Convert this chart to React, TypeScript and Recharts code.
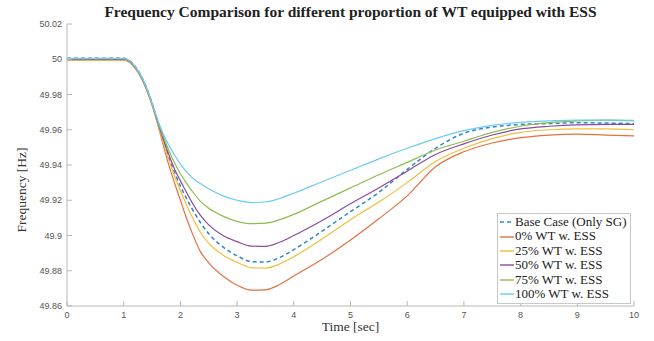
import React from 'react';
import { LineChart, Line, XAxis, YAxis } from 'recharts';

const time = [0, 0.5, 1, 1.1, 1.2, 1.3, 1.4, 1.5, 1.6, 1.7, 1.8, 1.9, 2, 2.1, 2.2, 2.35, 2.5, 2.75, 3, 3.25, 3.5, 3.75, 4, 4.5, 5, 5.5, 6, 6.5, 7, 7.5, 8, 8.5, 9, 9.5, 10];

const baseCase = [50.0005, 50.0005, 50.0005, 49.9993, 49.996, 49.991, 49.984, 49.975, 49.965, 49.9545, 49.944, 49.9355, 49.928, 49.9215, 49.9155, 49.9075, 49.901, 49.8935, 49.8885, 49.8852, 49.885, 49.8875, 49.892, 49.9025, 49.9135, 49.9245, 49.9375, 49.9495, 49.958, 49.9615, 49.963, 49.9635, 49.964, 49.9638, 49.9635];
const wt0 = [49.9995, 49.9995, 49.9995, 49.9983, 49.995, 49.99, 49.983, 49.974, 49.963, 49.951, 49.9395, 49.9295, 49.92, 49.9105, 49.902, 49.891, 49.8845, 49.877, 49.8718, 49.869, 49.8692, 49.8722, 49.877, 49.8865, 49.8975, 49.9095, 49.9225, 49.939, 49.9475, 49.9525, 49.9555, 49.957, 49.9575, 49.957, 49.9565];
const wt25 = [49.9997, 49.9997, 49.9997, 49.9985, 49.9952, 49.9902, 49.9832, 49.9743, 49.9635, 49.9525, 49.9425, 49.9335, 49.9255, 49.918, 49.911, 49.902, 49.8955, 49.889, 49.8848, 49.8818, 49.8815, 49.8838, 49.888, 49.898, 49.909, 49.919, 49.93, 49.942, 49.9495, 49.955, 49.9585, 49.96, 49.9605, 49.9605, 49.96];
const wt50 = [50, 50, 50, 49.9988, 49.9955, 49.9905, 49.9835, 49.9747, 49.9645, 49.9545, 49.9455, 49.9375, 49.931, 49.925, 49.919, 49.9115, 49.906, 49.9, 49.8965, 49.894, 49.8938, 49.8962, 49.9, 49.9085, 49.918, 49.927, 49.9365, 49.946, 49.952, 49.957, 49.9605, 49.962, 49.9628, 49.963, 49.963];
const wt75 = [50.0003, 50.0003, 50.0003, 49.9991, 49.9958, 49.9908, 49.9838, 49.975, 49.965, 49.9562, 49.948, 49.941, 49.935, 49.93, 49.9255, 49.9195, 49.9155, 49.911, 49.908, 49.9067, 49.907, 49.909, 49.912, 49.9195, 49.927, 49.9345, 49.9415, 49.9485, 49.9535, 49.9585, 49.962, 49.964, 49.965, 49.9655, 49.965];
const wt100 = [50.0005, 50.0005, 50.0005, 49.9993, 49.996, 49.991, 49.984, 49.975, 49.9655, 49.9575, 49.951, 49.9455, 49.9405, 49.9365, 49.933, 49.9295, 49.9265, 49.9225, 49.92, 49.9187, 49.919, 49.921, 49.924, 49.9305, 49.937, 49.9435, 49.9495, 49.955, 49.9595, 49.9625, 49.9642, 49.965, 49.9655, 49.9655, 49.9654];

const xTicks = [0, 1, 2, 3, 4, 5, 6, 7, 8, 9, 10];
const yTicks = [49.86, 49.88, 49.9, 49.92, 49.94, 49.96, 49.98, 50, 50.02];

const series = [
  { key: 'base', name: 'Base Case (Only SG)', color: '#2f86d2', dashed: true },
  { key: 'wt0', name: '0% WT w. ESS', color: '#e2713f', dashed: false },
  { key: 'wt25', name: '25% WT w. ESS', color: '#f1bd3c', dashed: false },
  { key: 'wt50', name: '50% WT w. ESS', color: '#8a4a9c', dashed: false },
  { key: 'wt75', name: '75% WT w. ESS', color: '#8cbd4e', dashed: false },
  { key: 'wt100', name: '100% WT w. ESS', color: '#6ccbf2', dashed: false },
];

const data = time.map((t, i) => ({
  t,
  base: baseCase[i],
  wt0: wt0[i],
  wt25: wt25[i],
  wt50: wt50[i],
  wt75: wt75[i],
  wt100: wt100[i],
}));

const axisColor = '#b8b8b8';
const serif = 'Liberation Serif, Times New Roman, serif';
const tickFont = { fontSize: 9, fill: '#555', fontFamily: 'Liberation Sans, Arial, sans-serif' };

const fmtY = (v: number) => String(parseFloat(v.toFixed(2)));

// legend drawn as an overlay so it doesn't steal space from the plot
const LegendBox = () => (
  <div
    style={{
      position: 'absolute',
      left: 497,
      top: 213,
      background: '#fff',
      border: '1px solid #c8c8c8',
      padding: '1px 3px 2px 2px',
      fontFamily: serif,
      fontSize: 13,
      color: '#222',
      lineHeight: '14.4px',
    }}
  >
    {series.map((s) => (
      <div key={s.key} style={{ display: 'flex', alignItems: 'center', whiteSpace: 'nowrap' }}>
        <svg width={14} height={6} style={{ marginRight: 1 }}>
          <line
            x1={0}
            y1={3}
            x2={14}
            y2={3}
            stroke={s.color}
            strokeWidth={1.4}
            strokeDasharray={s.dashed ? '4 3' : undefined}
          />
        </svg>
        <span>{s.name}</span>
      </div>
    ))}
  </div>
);

export default function App() {
  return (
    <div style={{ position: 'absolute', left: 0, top: 0, width: 654, height: 341, background: '#fff' }}>
      <div
        style={{
          position: 'absolute',
          left: 67,
          width: 567,
          top: 3,
          textAlign: 'center',
          fontFamily: serif,
          fontWeight: 'bold',
          fontSize: 15.5,
          color: '#222',
          whiteSpace: 'nowrap',
        }}
      >
        Frequency Comparison for different proportion of WT equipped with ESS
      </div>
      <div
        style={{
          position: 'absolute',
          left: 67,
          width: 567,
          top: 319,
          textAlign: 'center',
          fontFamily: serif,
          fontSize: 13.5,
          color: '#333',
        }}
      >
        Time [sec]
      </div>
      <div
        style={{
          position: 'absolute',
          left: 22,
          top: 190,
          transform: 'translate(-50%, -50%) rotate(-90deg)',
          whiteSpace: 'nowrap',
          fontFamily: serif,
          fontSize: 13.5,
          color: '#333',
        }}
      >
        Frequency [Hz]
      </div>
      <LineChart
        width={654}
        height={341}
        data={data}
        margin={{ top: 24, right: 20, left: 0, bottom: 0 }}
        style={{ position: 'absolute', left: 0, top: 0 }}
      >
        <XAxis
          xAxisId="bottom"
          dataKey="t"
          type="number"
          domain={[0, 10]}
          ticks={xTicks}
          height={35}
          tickSize={-5}
          tickMargin={11}
          tick={tickFont}
          stroke={axisColor}
          interval={0}
        />
        <XAxis
          xAxisId="top"
          orientation="top"
          dataKey="t"
          type="number"
          domain={[0, 10]}
          ticks={xTicks}
          height={0}
          tickSize={-5}
          tick={false}
          stroke={axisColor}
          interval={0}
        />
        <YAxis
          yAxisId="left"
          type="number"
          domain={[49.86, 50.02]}
          ticks={yTicks}
          width={67}
          tickSize={-5}
          tickMargin={10}
          tick={tickFont}
          tickFormatter={fmtY}
          stroke={axisColor}
          interval={0}
          allowDataOverflow
        />
        <YAxis
          yAxisId="right"
          orientation="right"
          type="number"
          domain={[49.86, 50.02]}
          ticks={yTicks}
          width={0}
          tickSize={-5}
          tick={false}
          stroke={axisColor}
          interval={0}
          allowDataOverflow
        />
        {series.map((s) => (
          <Line
            key={s.key}
            xAxisId="bottom"
            yAxisId="left"
            type="monotone"
            dataKey={s.key}
            name={s.name}
            stroke={s.color}
            strokeWidth={s.dashed ? 1.5 : 1.2}
            strokeDasharray={s.dashed ? '4 3' : undefined}
            dot={false}
            activeDot={false}
            isAnimationActive={false}
          />
        ))}
      </LineChart>
      <LegendBox />
    </div>
  );
}
